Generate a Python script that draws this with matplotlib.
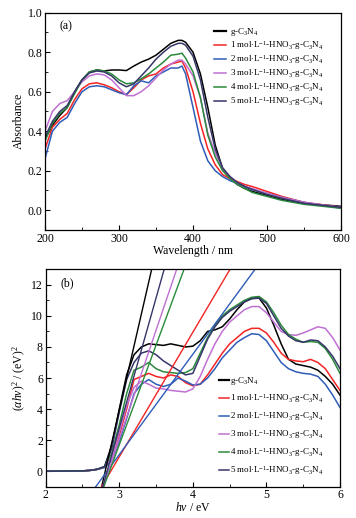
import numpy as np
import matplotlib
matplotlib.use("Agg")
import matplotlib.pyplot as plt
from matplotlib.ticker import MultipleLocator

plt.rcParams['font.family'] = ['Liberation Serif', 'DejaVu Serif']
plt.rcParams['mathtext.fontset'] = 'custom'
plt.rcParams['mathtext.rm'] = 'Liberation Serif'
plt.rcParams['mathtext.it'] = 'Liberation Serif:italic'

labels = [r'g-C$_3$N$_4$',
          r'1 mol$\cdot$L$^{-1}$-HNO$_3$-g-C$_3$N$_4$',
          r'2 mol$\cdot$L$^{-1}$-HNO$_3$-g-C$_3$N$_4$',
          r'3 mol$\cdot$L$^{-1}$-HNO$_3$-g-C$_3$N$_4$',
          r'4 mol$\cdot$L$^{-1}$-HNO$_3$-g-C$_3$N$_4$',
          r'5 mol$\cdot$L$^{-1}$-HNO$_3$-g-C$_3$N$_4$']
colors = ['#000000', '#f42424', '#2f5cb8', '#c070d2', '#2a8a3c', '#363668']

# (a) UV-vis absorbance
wl = [200, 210, 220, 230, 240, 250, 260, 270, 280, 290, 300, 310, 320, 330, 340, 350, 360,
      370, 380, 385, 390, 400, 410, 420, 430, 440, 450, 460, 470, 480, 500, 520, 550, 600]
abs_g = [.36, .43, .48, .52, .60, .66, .70, .71, .705, .71, .71, .707, .73, .75, .765, .785, .815,
         .845, .86, .86, .85, .80, .69, .52, .33, .21, .16, .13, .11, .095, .075, .055, .035, .02]
abs_1 = [.31, .42, .46, .49, .56, .615, .64, .645, .635, .62, .60, .585, .62, .66, .68, .69, .72,
         .74, .75, .755, .72, .60, .44, .31, .23, .18, .16, .145, .13, .12, .095, .07, .04, .015]
abs_2 = [.26, .40, .445, .47, .54, .60, .625, .63, .625, .61, .595, .585, .63, .655, .645, .68, .70,
         .72, .72, .73, .69, .52, .35, .25, .20, .17, .15, .135, .12, .105, .085, .065, .04, .01]
abs_3 = [.40, .50, .54, .555, .60, .65, .68, .69, .685, .66, .62, .58, .58, .60, .63, .67, .71,
         .74, .76, .76, .74, .68, .57, .39, .29, .21, .17, .14, .12, .11, .085, .065, .04, .015]
abs_4 = [.35, .44, .49, .52, .59, .66, .70, .71, .705, .69, .66, .64, .645, .665, .69, .72, .75,
         .785, .79, .795, .77, .70, .57, .38, .27, .20, .16, .13, .11, .09, .07, .05, .03, .01]
abs_5 = [.37, .45, .50, .53, .60, .66, .695, .705, .70, .68, .645, .625, .64, .68, .72, .765, .80,
         .83, .845, .845, .835, .78, .66, .47, .31, .215, .17, .14, .12, .105, .08, .06, .035, .015]
absorb = [abs_g, abs_1, abs_2, abs_3, abs_4, abs_5]

# (b) Tauc plot
ev = [2.0, 2.5, 2.6, 2.7, 2.8, 2.9, 3.0, 3.1, 3.2, 3.3, 3.4, 3.5, 3.6, 3.7, 3.8, 3.9, 4.0, 4.1,
      4.2, 4.3, 4.4, 4.5, 4.6, 4.7, 4.8, 4.9, 5.0, 5.1, 5.2, 5.3, 5.4, 5.5, 5.6, 5.7, 5.8, 5.9, 6.0]
tauc_g = [0, .02, .05, .12, .3, 1.7, 4.0, 6.2, 7.5, 8.0, 8.2, 8.15, 8.1, 8.2, 8.1, 8.0, 8.05, 8.4,
          9.0, 9.1, 9.3, 9.8, 10.4, 10.9, 11.15, 11.15, 10.5, 9.4, 8.2, 7.2, 6.9, 6.8, 6.7, 6.5, 6.1, 5.6, 4.9]
tauc_1 = [0, .02, .05, .12, .25, .9, 2.3, 4.0, 5.9, 6.1, 6.3, 6.1, 6.0, 6.2, 6.1, 5.7, 5.5, 5.6,
          6.2, 6.9, 7.6, 8.2, 8.6, 9.0, 9.2, 9.2, 8.9, 8.3, 7.6, 7.2, 7.1, 7.05, 7.2, 7.0, 6.6, 5.9, 5.2]
tauc_2 = [0, .02, .05, .12, .22, .7, 1.9, 3.4, 5.0, 5.6, 5.9, 5.6, 5.45, 5.6, 6.0, 5.8, 5.55, 5.6,
          6.0, 6.6, 7.3, 7.8, 8.3, 8.6, 8.85, 8.8, 8.4, 7.7, 7.0, 6.6, 6.4, 6.3, 6.25, 6.1, 5.6, 4.9, 4.1]
tauc_3 = [0, .02, .05, .12, .25, .9, 2.5, 4.2, 5.4, 5.8, 5.6, 5.35, 5.3, 5.2, 5.15, 5.1, 5.3, 6.1,
          7.2, 8.2, 9.0, 9.6, 10.0, 10.4, 10.6, 10.6, 10.2, 9.6, 9.0, 8.8, 8.75, 8.9, 9.1, 9.3, 9.2, 8.6, 7.8]
tauc_4 = [0, .02, .05, .12, .28, 1.2, 3.0, 5.0, 6.5, 6.7, 7.0, 6.6, 6.4, 6.35, 6.3, 6.35, 6.6, 7.6,
          8.6, 9.4, 10.0, 10.4, 10.7, 11.0, 11.2, 11.25, 10.9, 10.2, 9.4, 8.8, 8.5, 8.3, 8.35, 8.3, 7.9, 7.2, 6.3]
tauc_5 = [0, .02, .05, .12, .3, 1.5, 3.8, 5.9, 7.0, 7.6, 7.75, 7.5, 7.1, 6.8, 6.5, 6.2, 6.3, 7.4,
          8.5, 9.3, 9.9, 10.3, 10.6, 10.9, 11.1, 11.15, 10.8, 10.0, 9.2, 8.7, 8.4, 8.3, 8.45, 8.4, 8.0, 7.4, 6.6]
tauc = [tauc_g, tauc_1, tauc_2, tauc_3, tauc_4, tauc_5]

# tangent (band gap) lines: x at y=-1 and at y=13
fit_y = [-1, 13]
fit_x = [[2.76, 3.44], [2.76, 4.505], [2.68, 4.845], [2.78, 3.78], [2.79, 3.88], [2.775, 3.61]]

fig = plt.figure(figsize=(3.56, 5.18), dpi=100)
ax1 = fig.add_axes([0.1264, 0.556, 0.8316, 0.4195])
ax2 = fig.add_axes([0.1284, 0.0604, 0.8267, 0.4197])

for y, c, lab in zip(absorb, colors, labels):
    ax1.plot(wl, y, color=c, lw=1.1, label=lab)
ax1.set_xlim(200, 600)
ax1.set_ylim(-0.1, 1.0)
ax1.xaxis.set_major_locator(MultipleLocator(100))
ax1.xaxis.set_minor_locator(MultipleLocator(50))
ax1.yaxis.set_major_locator(MultipleLocator(0.2))
ax1.yaxis.set_minor_locator(MultipleLocator(0.1))
ax1.set_xlabel('Wavelength / nm', fontsize=8.5, labelpad=0)
ax1.set_ylabel('Absorbance', fontsize=8.5, labelpad=2)
ax1.text(0.05, 0.965, '(a)', transform=ax1.transAxes, fontsize=8.5, va='top')
leg1 = ax1.legend(loc='upper left', bbox_to_anchor=(0.56, 0.955), frameon=False, fontsize=6.5,
                  handlelength=1.25, handletextpad=0.45, labelspacing=0.12, borderaxespad=0)
leg1.get_lines()[0].set_linewidth(1.6)

for y, c, lab in zip(tauc, colors, labels):
    ax2.plot(ev, y, color=c, lw=1.1, label=lab)
for fx, c in zip(fit_x, colors):
    ax2.plot(fx, fit_y, color=c, lw=1.0)
ax2.set_xlim(2, 6)
ax2.set_ylim(-1, 13)
ax2.xaxis.set_major_locator(MultipleLocator(1))
ax2.xaxis.set_minor_locator(MultipleLocator(0.5))
ax2.yaxis.set_major_locator(MultipleLocator(2))
ax2.yaxis.set_minor_locator(MultipleLocator(1))
ax2.set_xlabel(r'$h\nu$ / eV', fontsize=8.5, labelpad=0)
ax2.set_ylabel(r'$(\alpha h\nu)^2$ / (eV)$^2$', fontsize=8.5, labelpad=2)
ax2.text(0.05, 0.965, '(b)', transform=ax2.transAxes, fontsize=8.5, va='top')
leg2 = ax2.legend(loc='upper left', bbox_to_anchor=(0.575, 0.53), frameon=False, fontsize=6.5,
                  handlelength=1.2, handletextpad=0.12, labelspacing=0.55, borderaxespad=0)
leg2.get_lines()[0].set_linewidth(1.6)

for ax in (ax1, ax2):
    ax.tick_params(which='both', direction='in', labelsize=8.5, pad=2)
    ax.tick_params(which='major', length=3.5, width=0.8)
    ax.tick_params(which='minor', length=2, width=0.6)
    for s in ax.spines.values():
        s.set_linewidth(0.9)

fig.savefig('out.png', dpi=100)
